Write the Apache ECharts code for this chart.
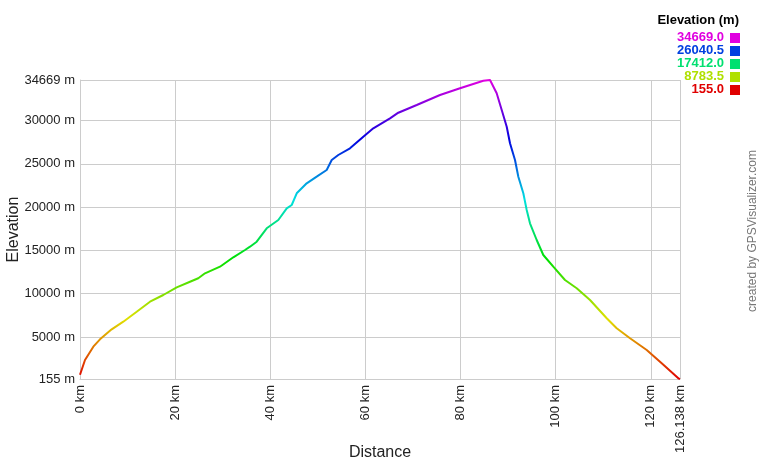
<!DOCTYPE html>
<html>
<head>
<meta charset="utf-8">
<script src="https://cdn.jsdelivr.net/npm/echarts@6/dist/echarts.min.js"></script>
<style>
  html, body { margin: 0; padding: 0; background: #fff; }
  #chart { width: 760px; height: 460px; }
</style>
</head>
<body>
<div id="chart"></div>
<script>
  // track profile
  const distKm = [0, 1.05, 2.8, 4.2, 6.66, 9.1, 11.92, 14.72, 17.51, 20.33, 23.13, 24.87, 26.28, 29.43,
    32.23, 34.69, 35.74, 37.15, 39.25, 41.69, 43.46, 44.51, 45.56, 47.66, 49.76, 51.86, 52.92, 54.3,
    56.76, 59.56, 61.66, 65.17, 66.92, 70.79, 75.68, 79.89, 84.79, 86.2, 87.6, 88.66, 89.71, 90.4,
    91.45, 92.15, 93.2, 93.91, 94.6, 96.01, 97.4, 99.5, 101.96, 104.42, 107.22, 110.73, 112.83,
    115.63, 119.14, 122.29, 125.79, 126.138]
  const elevM = [650, 2348, 3883, 4738, 5892, 6769, 7923, 9078, 9851, 10740, 11386, 11779, 12356, 13118,
    14203, 15045, 15426, 16004, 17550, 18508, 19859, 20240, 21590, 22745, 23507, 24280, 25434, 26011,
    26785, 28124, 29093, 30248, 30894, 31783, 32937, 33711, 34588, 34669, 33133, 31206, 29278, 27362,
    25434, 23507, 21590, 19663, 18127, 16200, 14468, 13118, 11583, 10624, 9274, 7162, 6007,
    4853, 3502, 1967, 236, 155]

  const yTicks = [155, 5000, 10000, 15000, 20000, 25000, 30000, 34669]
  const xTicks = [0, 20, 40, 60, 80, 100, 120, 126.138]
  const legendValues = ['34669.0', '26040.5', '17412.0', '8783.5', '155.0']
  const legendColors = ['#e000e0', '#0040e0', '#00e070', '#b0e000', '#e00000']
  const hueColors = ['#e00000', '#e0e000', '#00e000', '#00e0e0', '#0000e0', '#e000e0']

  let chart = echarts.init(document.getElementById('chart'))

  let legendItems = [{
    type: 'text', right: 21, top: 14,
    style: { text: 'Elevation (m)', font: 'bold 13px "Liberation Sans", Arial', fill: '#000' }
  }]
  legendValues.forEach((v, i) => {
    legendItems.push({
      type: 'text', right: 36, top: 31 + i * 13,
      style: { text: v, font: 'bold 13px "Liberation Sans", Arial', fill: legendColors[i] }
    })
    legendItems.push({
      type: 'rect', shape: { x: 730, y: 33 + i * 13, width: 10, height: 10 },
      style: { fill: legendColors[i] }
    })
  })
  legendItems.push({
    type: 'text', x: 747, y: 231, rotation: Math.PI / 2,
    style: {
      text: 'created by GPSVisualizer.com', font: '12px "Liberation Sans", Arial',
      fill: '#777', align: 'center', verticalAlign: 'top'
    }
  })

  let data = distKm.map((d, i) => [d, elevM[i]])

  let option = {
    animation: false,
    textStyle: { fontFamily: '"Liberation Sans", Arial' },
    grid: { left: 80, right: 80, top: 80, bottom: 81, outerBoundsMode: 'none', containLabel: false },
    xAxis: {
      type: 'value',
      min: 0,
      max: 126.138,
      interval: 20,
      name: 'Distance',
      nameLocation: 'middle',
      nameGap: 66,
      nameMoveOverlap: false,
      nameTextStyle: { fontSize: 16, color: '#222', verticalAlign: 'top' },
      axisLine: { show: true, lineStyle: { color: '#ccc' } },
      axisTick: { show: false },
      splitLine: { show: true, lineStyle: { color: '#ccc' } },
      axisLabel: {
        rotate: 90,
        fontSize: 13,
        color: '#222',
        margin: 6,
        showMaxLabel: true,
        customValues: xTicks,
        formatter: v => v + ' km'
      }
    },
    yAxis: {
      type: 'value',
      min: 155,
      max: 34669,
      name: 'Elevation',
      nameLocation: 'middle',
      nameGap: 58,
      nameRotate: 90,
      nameMoveOverlap: false,
      nameTextStyle: { fontSize: 16, color: '#222' },
      axisLine: { show: true, lineStyle: { color: '#ccc' } },
      axisTick: { show: false },
      splitLine: { show: false },
      axisLabel: {
        fontSize: 13,
        color: '#222',
        margin: 5,
        customValues: yTicks,
        formatter: v => v + ' m'
      }
    },
    visualMap: {
      show: false,
      type: 'continuous',
      seriesIndex: 0,
      dimension: 1,
      min: 155,
      max: 34669,
      inRange: { color: hueColors }
    },
    graphic: legendItems,
    series: [
      {
        type: 'line',
        data: data,
        showSymbol: false,
        lineStyle: { width: 2 },
        z: 5
      },
      {
        type: 'line',
        data: [],
        markLine: {
          silent: true,
          symbol: 'none',
          label: { show: false },
          lineStyle: { color: '#ccc', type: 'solid', width: 1 },
          data: yTicks.slice(1).map(v => ({ yAxis: v }))
        }
      }
    ]
  }
  chart.setOption(option)
</script>
</body>
</html>
